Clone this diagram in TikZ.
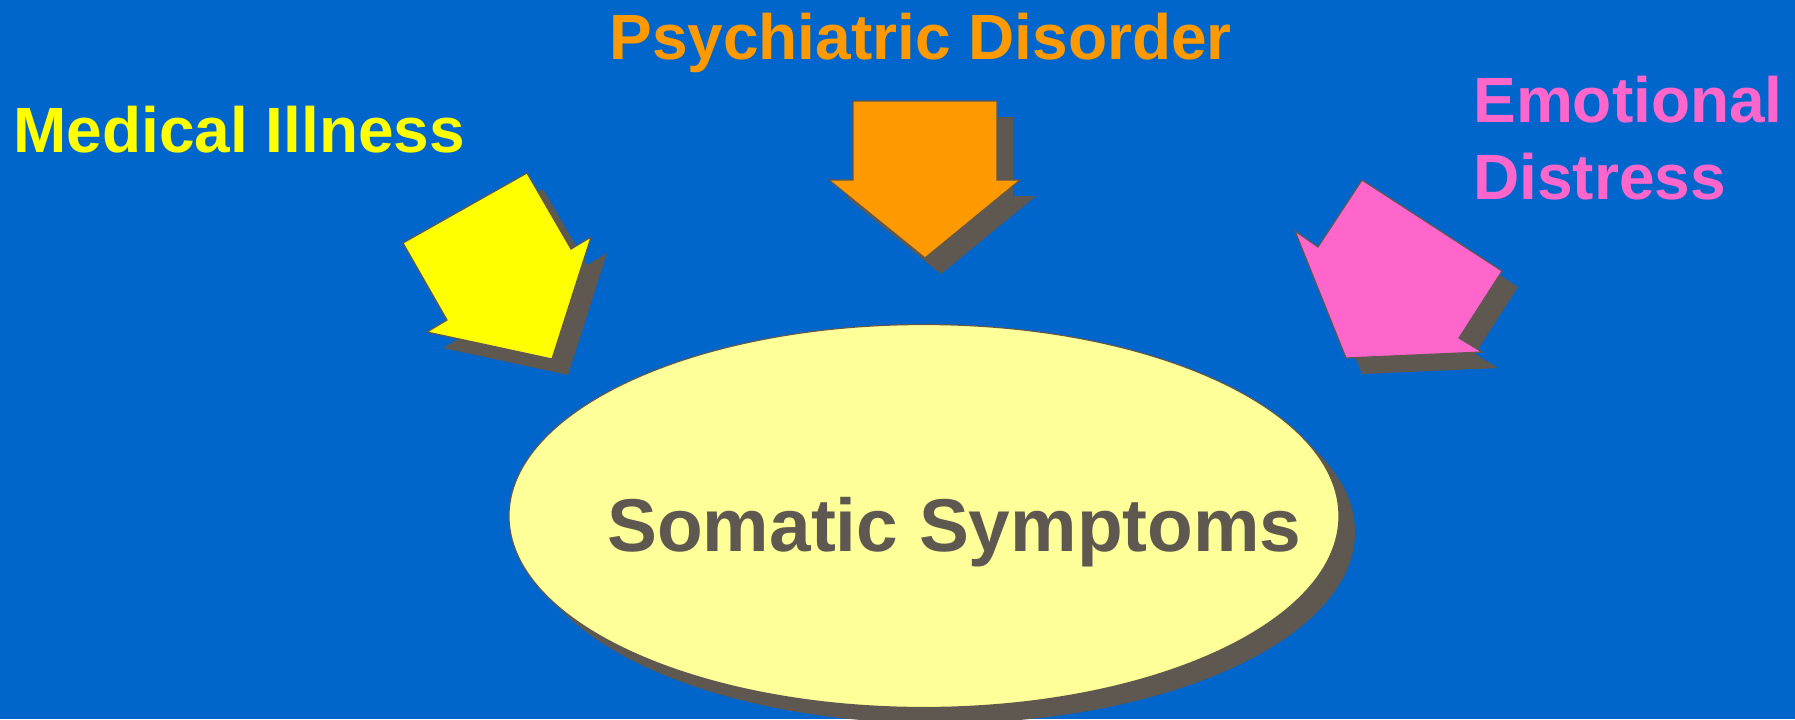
\documentclass[tikz,border=0pt]{standalone}
\usepackage{fontspec}
\setmainfont{Liberation Sans}
\usetikzlibrary{shapes.geometric}

\definecolor{bgblue}{HTML}{0066CC}
\definecolor{illyellow}{HTML}{FFFF00}
\definecolor{psyorange}{HTML}{FF9900}
\definecolor{emopink}{HTML}{FF66CC}
\definecolor{shadegray}{HTML}{5F5850}
\definecolor{paleyellow}{HTML}{FFFF99}

\tikzset{
  label/.style={inner sep=0pt, anchor=base west, font=\bfseries\fontsize{32}{38.5}\selectfont},
  dropshade/.style={fill=shadegray, shift={(16,16)}},
  arrowpoly/.style={draw=shadegray, line width=0.6pt, line join=miter}
}

\begin{document}
\begin{tikzpicture}[x=0.5pt, y=-0.5pt, line join=round]
  % Background (fixes the page size)
  \fill[bgblue] (0,0) rectangle (1795,719);
  \useasboundingbox (0,0) rectangle (1795,719);
  \clip (0,0) rectangle (1795,719);

  % Labels
  \node[label, text=illyellow] (medical) at (13,152) {Medical Illness};
  \node[label, text=psyorange] (psych) at (609,59) {Psychiatric Disorder};
  \node[label, text=emopink, anchor=north west, align=left] (emotion) at (1473,76)
    {Emotional\\Distress};

  % Yellow arrow
  \fill[dropshade] (527,173) -- (571,249) -- (591,237) -- (552,359) -- (427,332)
    -- (447,320) -- (403,243) -- cycle;
  \filldraw[arrowpoly, fill=illyellow] (527,173) -- (571,249) -- (591,237) -- (552,359)
    -- (427,332) -- (447,320) -- (403,243) -- cycle;

  % Orange arrow
  \fill[dropshade] (853,101) -- (997,101) -- (997,180) -- (1020,180) -- (925,258)
    -- (829,180) -- (853,180) -- cycle;
  \filldraw[arrowpoly, fill=psyorange] (853,101) -- (997,101) -- (997,180) -- (1020,180)
    -- (925,258) -- (829,180) -- (853,180) -- cycle;

  % Pink arrow
  \fill[dropshade] (1362,180) -- (1502,271) -- (1459,338) -- (1482,352) -- (1346,358)
    -- (1295,231) -- (1318,247) -- cycle;
  \filldraw[arrowpoly, fill=emopink] (1362,180) -- (1502,271) -- (1459,338) -- (1482,352)
    -- (1346,358) -- (1295,231) -- (1318,247) -- cycle;

  % Central ellipse with its shadow
  \fill[shadegray] (940,532) ellipse (415 and 191.5);
  \node[ellipse, draw=shadegray, line width=0.6pt, fill=paleyellow,
    minimum width=415pt, minimum height=191.5pt, inner sep=0pt] (somatic) at (924,516) {};
  \node[inner sep=0pt, anchor=base west, text=shadegray,
    font=\bfseries\fontsize{37.4}{44}\selectfont] (somlabel) at (607,551) {Somatic Symptoms};
\end{tikzpicture}
\end{document}
